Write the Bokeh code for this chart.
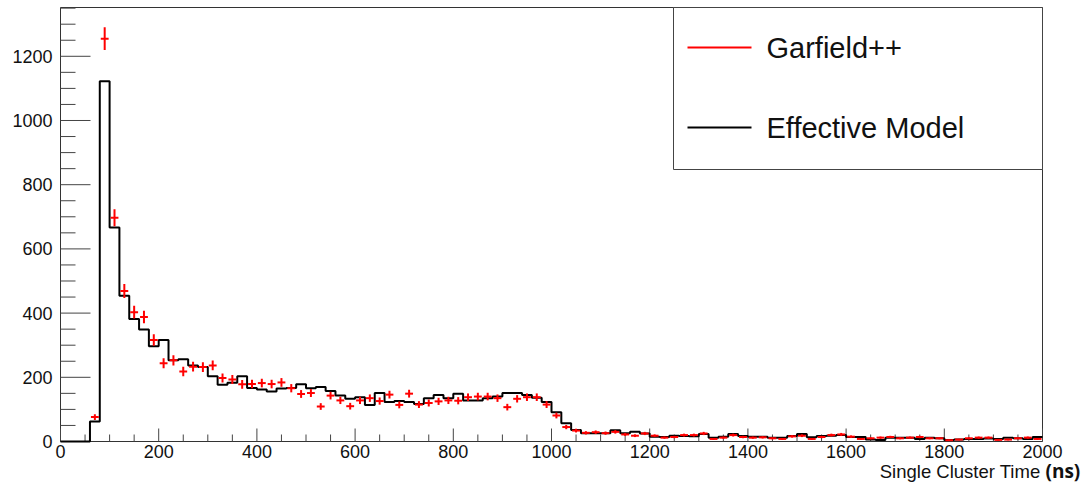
import numpy as np
from bokeh.plotting import figure
from bokeh.models import Range1d, ColumnDataSource
from bokeh.core.properties import value
from bokeh.embed import file_html
from bokeh.resources import INLINE

# ---- data (20 ns bins, 0..2000 ns) ----
bin_width = 20
x_min, x_max = 0, 2000
y_top = 1352

effective_model = [
    0, 0, 0, 62, 1122, 667, 454, 382, 349, 297,
    316, 253, 256, 237, 232, 203, 177, 183, 203, 167,
    162, 156, 165, 167, 178, 166, 170, 157, 143, 133,
    138, 114, 151, 123, 126, 123, 117, 135, 145, 135,
    149, 128, 128, 135, 140, 151, 151, 145, 136, 123,
    91, 57, 36, 26, 26, 26, 35, 26, 30, 25,
    15, 14, 18, 17, 16, 23, 12, 15, 23, 17,
    15, 15, 12, 12, 17, 23, 13, 17, 18, 20,
    14, 14, 6, 5, 12, 12, 12, 8, 12, 10,
    5, 6, 8, 8, 9, 8, 12, 10, 8, 14,
]

garfield = [
    0, 0, 0, 76, 1255, 697, 469, 403, 388, 316,
    244, 253, 218, 233, 232, 237, 198, 193, 178, 179,
    182, 179, 184, 166, 148, 151, 109, 143, 128, 110,
    128, 135, 126, 146, 114, 149, 115, 120, 125, 128,
    127, 138, 140, 140, 135, 107, 133, 138, 138, 115,
    81, 45, 34, 27, 29, 26, 30, 22, 18, 25,
    18, 12, 14, 20, 20, 25, 8, 12, 20, 14,
    12, 13, 10, 8, 16, 18, 8, 14, 20, 22,
    15, 8, 10, 12, 14, 10, 12, 14, 10, 10,
    4, 6, 10, 12, 12, 5, 6, 10, 12, 8,
]

y_major = [0, 200, 400, 600, 800, 1000, 1200]
y_minor_step = 50
x_major = list(range(0, 2001, 200))
x_minor_step = 50
series_labels = ["Garfield++", "Effective Model"]
x_title = "Single Cluster Time"
x_unit = "(ns)"

# ---- layout (pixels) ----
W, H = 1086, 483
FL, FR, FT, FB = 60, 1042, 7, 441      # frame edges in pixels
kx = (x_max - x_min) / (FR - FL)       # data per pixel
ky = y_top / (FB - FT)

def dx(px):
    return x_min + (px - FL) * kx

def dy(py):
    return (FB - py) * ky

p = figure(width=W, height=H,
           x_range=Range1d(dx(0), dx(W)), y_range=Range1d(dy(H), dy(0)),
           output_backend="svg", toolbar_location=None,
           x_axis_location=None, y_axis_location=None,
           min_border=0)
p.background_fill_color = "white"
p.border_fill_color = "white"
p.outline_line_color = None
p.xgrid.visible = False
p.ygrid.visible = False

font = "Liberation Sans"
axis_col = "#444444"
text_col = "#111111"

# ---- frame ----
p.quad(left=[x_min], right=[x_max], bottom=[0], top=[y_top], fill_color=None,
       line_color="#333333", line_width=1)

# ---- ticks ----
y_minor = [v for v in range(0, y_top + 1, y_minor_step) if v not in y_major]
x_minor = [v for v in range(x_min, x_max + 1, x_minor_step) if v not in x_major]
p.segment(x0=[x_min] * len(y_major), x1=[dx(FL + 30)] * len(y_major), y0=y_major, y1=y_major,
          line_color=axis_col, line_width=1)
p.segment(x0=[x_min] * len(y_minor), x1=[dx(FL + 15)] * len(y_minor), y0=y_minor, y1=y_minor,
          line_color=axis_col, line_width=1)
p.segment(x0=x_major, x1=x_major, y0=[0] * len(x_major), y1=[dy(FB - 13)] * len(x_major),
          line_color=axis_col, line_width=1)
p.segment(x0=x_minor, x1=x_minor, y0=[0] * len(x_minor), y1=[dy(FB - 7)] * len(x_minor),
          line_color=axis_col, line_width=1)

# tick labels
p.text(x=[dx(FL - 8)] * len(y_major), y=y_major, text=[str(v) for v in y_major],
       text_align="right", text_baseline="middle", text_font=value(font),
       text_font_size=value("18px"), text_color=text_col)
p.text(x=x_major, y=[dy(FB + 3)] * len(x_major), text=[str(v) for v in x_major],
       text_align="center", text_baseline="top", text_font=value(font),
       text_font_size=value("18px"), text_color=text_col)

# axis title
p.text(x=[dx(FR - 2)], y=[dy(471)], text=[x_title], text_align="right",
       text_baseline="alphabetic", text_font=value(font), text_font_size=value("18.5px"),
       text_color=text_col)
p.text(x=[dx(FR + 3)], y=[dy(470)], text=[x_unit], text_align="left",
       text_baseline="alphabetic", text_font=value("Open Sans"), text_font_style="bold",
       text_font_size=value("19px"), text_color=text_col)

# ---- data ----
edges = np.arange(x_min, x_max + bin_width, bin_width)
centers = edges[:-1] + bin_width / 2
eff = np.array(effective_model, dtype=float)
gar = np.array(garfield, dtype=float)

step_src = ColumnDataSource(dict(x=edges, y=np.append(eff, eff[-1])))
p.step("x", "y", source=step_src, mode="after", line_color="black", line_width=2)

mask = gar > 0
err = np.sqrt(gar[mask])
xc = centers[mask]
yc = gar[mask]
half = 8
p.segment(x0=xc - half, y0=yc, x1=xc + half, y1=yc, line_color="#ff0000", line_width=2)
p.segment(x0=xc, y0=yc - err, x1=xc, y1=yc + err, line_color="#ff0000", line_width=2)

# ---- legend ----
LL, LT, LB = 673, 7, 169
p.quad(left=[dx(LL)], right=[x_max], bottom=[dy(LB)], top=[y_top], fill_color="white",
       line_color="#444444", line_width=1)
leg_y = [dy(47), dy(127)]
p.segment(x0=[dx(687)] * 2, x1=[dx(751)] * 2, y0=leg_y, y1=leg_y,
          line_color=["#ff0000", "black"], line_width=2)
p.text(x=[dx(766)] * 2, y=leg_y, text=series_labels, text_align="left",
       text_baseline="middle", text_font=value(font), text_font_size=value("29px"),
       text_color=text_col)

open("out.html", "w").write(file_html(p, INLINE))
